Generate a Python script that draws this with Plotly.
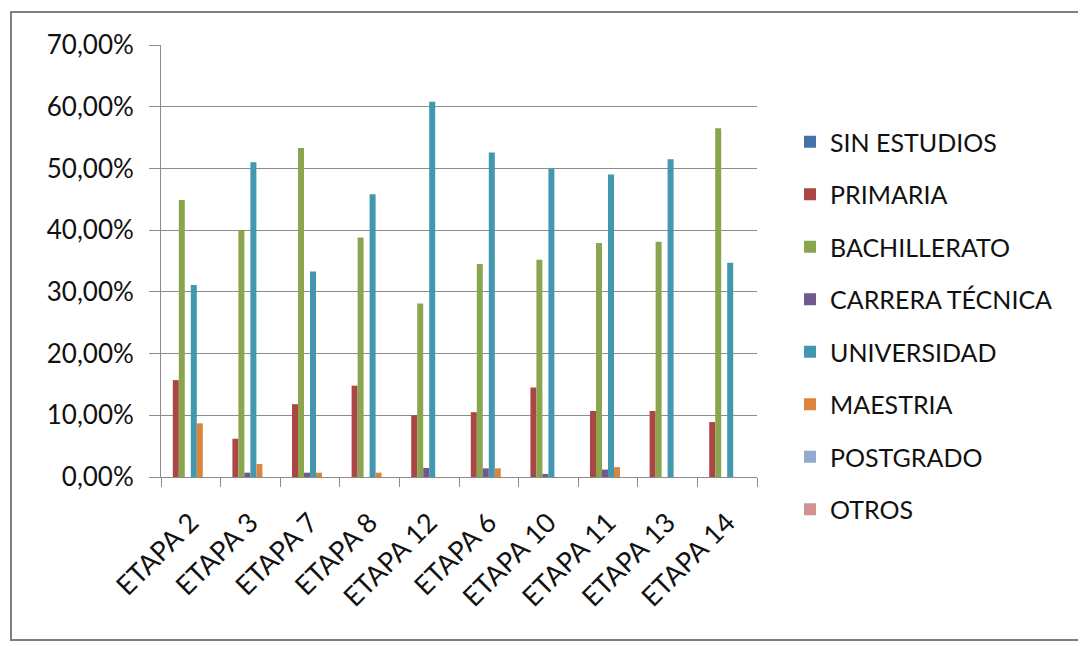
import plotly.graph_objects as go

categories = ["ETAPA 2", "ETAPA 3", "ETAPA 7", "ETAPA 8", "ETAPA 12",
              "ETAPA 6", "ETAPA 10", "ETAPA 11", "ETAPA 13", "ETAPA 14"]

sin_estudios    = [0, 0, 0, 0, 0, 0, 0, 0, 0, 0]
primaria        = [0.157, 0.062, 0.118, 0.148, 0.100, 0.105, 0.145, 0.107, 0.107, 0.089]
bachillerato    = [0.449, 0.400, 0.533, 0.388, 0.281, 0.345, 0.352, 0.379, 0.381, 0.565]
carrera_tecnica = [0, 0.007, 0.007, 0, 0.0146, 0.014, 0.005, 0.012, 0, 0]
universidad     = [0.311, 0.510, 0.333, 0.458, 0.608, 0.526, 0.499, 0.490, 0.515, 0.347]
maestria        = [0.087, 0.021, 0.007, 0.007, 0, 0.014, 0, 0.016, 0, 0]
postgrado       = [0, 0, 0, 0, 0, 0, 0, 0, 0, 0]
otros           = [0, 0, 0, 0, 0, 0, 0, 0, 0, 0]

series = [
    ("SIN ESTUDIOS", sin_estudios, "#4572A7"),
    ("PRIMARIA", primaria, "#AA4643"),
    ("BACHILLERATO", bachillerato, "#89A54E"),
    ("CARRERA TÉCNICA", carrera_tecnica, "#71588F"),
    ("UNIVERSIDAD", universidad, "#4198AF"),
    ("MAESTRIA", maestria, "#DB843D"),
    ("POSTGRADO", postgrado, "#93A9CF"),
    ("OTROS", otros, "#D19392"),
]

FONT = "Lato, 'Open Sans', sans-serif"
GRID = "#8c8c8c"
TEXT = "#111111"

fig = go.Figure()
for i, (name, vals, color) in enumerate(series):
    fig.add_trace(go.Bar(
        name=name, x=categories, y=vals,
        marker=dict(color=color, line=dict(width=0)),
        legendgroup=f"g{i}",
    ))

# page body adds an 8px offset; work in screen coordinates and shift
OX, OY = 8, 8
W, H = 1086 - OX, 646 - OY
L, T, R, B = 161 - OX, 45 - OY, 757 - OX, 477 - OY
pw, ph = R - L, B - T

def px_x(x):
    return (x - OX - L) / pw

def px_y(y):
    return (B - (y - OY)) / ph

fig.update_layout(
    width=W, height=H,
    margin=dict(l=L, r=W - R, t=T, b=H - B, autoexpand=False),
    paper_bgcolor="white", plot_bgcolor="white",
    barmode="group", bargap=0.195, bargroupgap=0,
    separators=",.",
    font=dict(family=FONT, size=20, color=TEXT),
    showlegend=True,
    legend=dict(
        x=px_x(790), xanchor="left",
        y=px_y(119), yanchor="top",
        font=dict(family=FONT, size=25, color=TEXT),
        tracegroupgap=17,
        bgcolor="rgba(0,0,0,0)",
        itemwidth=30,
        maxheight=600,
    ),
    xaxis=dict(
        type="category",
        showgrid=False,
        showline=True, linecolor=GRID, linewidth=1,
        ticks="outside", tickson="boundaries", ticklen=9, tickcolor=GRID,
        tickangle=-45,
        ticklabelstandoff=18,
        tickfont=dict(family=FONT, size=27, color=TEXT),
        range=[-0.5, 9.5],
    ),
    yaxis=dict(
        range=[0, 0.70], dtick=0.10, tick0=0,
        tickformat=".2%",
        showgrid=True, gridcolor=GRID, gridwidth=1,
        showline=True, linecolor=GRID, linewidth=1,
        ticks="outside", ticklen=11, tickcolor=GRID,
        ticklabelstandoff=10,
        tickfont=dict(family=FONT, size=26, color=TEXT),
        zeroline=False,
    ),
    shapes=[dict(
        type="rect", xref="paper", yref="paper",
        x0=px_x(11), x1=px_x(1083),
        y0=px_y(640), y1=px_y(12),
        line=dict(color="#7f7f7f", width=2),
        fillcolor="rgba(0,0,0,0)", layer="below",
    )],
)

fig.write_html("out.html")
